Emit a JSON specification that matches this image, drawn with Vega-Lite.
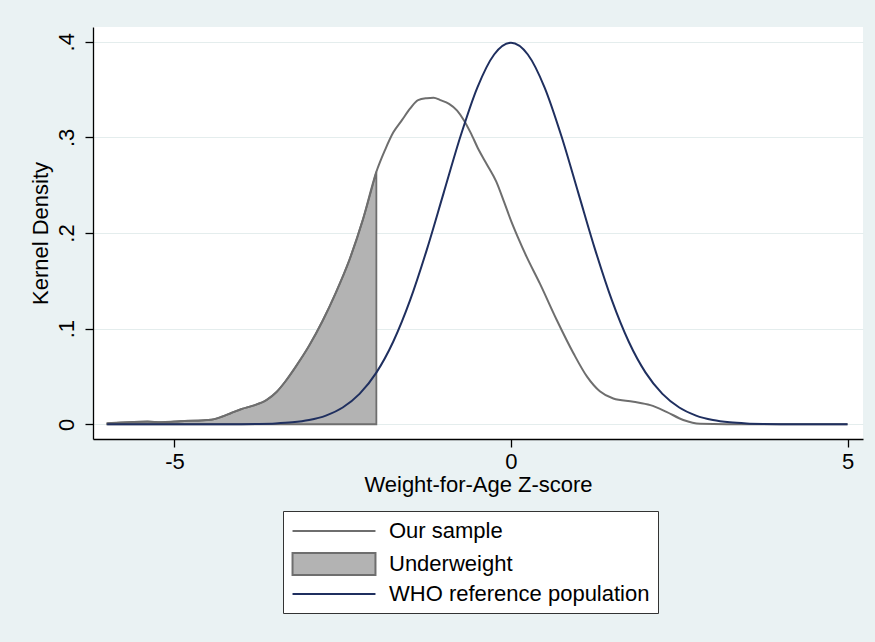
{
  "$schema": "https://vega.github.io/schema/vega-lite/v6.json",
  "width": 770,
  "height": 412,
  "autosize": {"type": "none"},
  "padding": {"left": 93, "top": 27, "right": 12, "bottom": 203},
  "background": "#eaf2f3",
  "config": {
    "view": {"fill": "white", "stroke": null},
    "font": "Liberation Sans",
    "axis": {
      "labelFont": "Liberation Sans",
      "titleFont": "Liberation Sans",
      "labelFontSize": 22,
      "titleFontSize": 22,
      "titleFontWeight": "normal",
      "labelColor": "black",
      "titleColor": "black",
      "domainColor": "black",
      "domainWidth": 1.3,
      "tickColor": "black",
      "tickWidth": 1.3,
      "tickSize": 8
    },
    "legend": {
      "labelFont": "Liberation Sans",
      "labelFontSize": 22,
      "labelColor": "black",
      "labelLimit": 500
    }
  },
  "datasets": {
    "dens": [
      {"series": "Our sample", "x": -6.0, "y": 0.001},
      {"series": "Our sample", "x": -5.8, "y": 0.0018},
      {"series": "Our sample", "x": -5.6, "y": 0.0025},
      {"series": "Our sample", "x": -5.4, "y": 0.0028},
      {"series": "Our sample", "x": -5.2, "y": 0.0022},
      {"series": "Our sample", "x": -5.0, "y": 0.0028},
      {"series": "Our sample", "x": -4.8, "y": 0.0036},
      {"series": "Our sample", "x": -4.6, "y": 0.004},
      {"series": "Our sample", "x": -4.45, "y": 0.0048},
      {"series": "Our sample", "x": -4.3, "y": 0.0078},
      {"series": "Our sample", "x": -4.15, "y": 0.012},
      {"series": "Our sample", "x": -4.0, "y": 0.016},
      {"series": "Our sample", "x": -3.83, "y": 0.0195},
      {"series": "Our sample", "x": -3.63, "y": 0.0255},
      {"series": "Our sample", "x": -3.48, "y": 0.034},
      {"series": "Our sample", "x": -3.35, "y": 0.045},
      {"series": "Our sample", "x": -3.2, "y": 0.06},
      {"series": "Our sample", "x": -3.0, "y": 0.082},
      {"series": "Our sample", "x": -2.8, "y": 0.108},
      {"series": "Our sample", "x": -2.6, "y": 0.138},
      {"series": "Our sample", "x": -2.4, "y": 0.172},
      {"series": "Our sample", "x": -2.2, "y": 0.214},
      {"series": "Our sample", "x": -2.0, "y": 0.264},
      {"series": "Our sample", "x": -1.87, "y": 0.287},
      {"series": "Our sample", "x": -1.75, "y": 0.305},
      {"series": "Our sample", "x": -1.62, "y": 0.318},
      {"series": "Our sample", "x": -1.5, "y": 0.33},
      {"series": "Our sample", "x": -1.38, "y": 0.339},
      {"series": "Our sample", "x": -1.25, "y": 0.341},
      {"series": "Our sample", "x": -1.15, "y": 0.3415},
      {"series": "Our sample", "x": -1.05, "y": 0.339},
      {"series": "Our sample", "x": -0.92, "y": 0.335},
      {"series": "Our sample", "x": -0.8, "y": 0.328},
      {"series": "Our sample", "x": -0.7, "y": 0.318},
      {"series": "Our sample", "x": -0.6, "y": 0.305},
      {"series": "Our sample", "x": -0.48, "y": 0.287},
      {"series": "Our sample", "x": -0.36, "y": 0.272},
      {"series": "Our sample", "x": -0.22, "y": 0.254},
      {"series": "Our sample", "x": -0.1, "y": 0.232},
      {"series": "Our sample", "x": 0.0, "y": 0.213},
      {"series": "Our sample", "x": 0.1, "y": 0.196},
      {"series": "Our sample", "x": 0.233, "y": 0.175},
      {"series": "Our sample", "x": 0.43, "y": 0.147},
      {"series": "Our sample", "x": 0.68, "y": 0.109},
      {"series": "Our sample", "x": 0.93, "y": 0.074},
      {"series": "Our sample", "x": 1.13, "y": 0.0498},
      {"series": "Our sample", "x": 1.32, "y": 0.0345},
      {"series": "Our sample", "x": 1.52, "y": 0.027},
      {"series": "Our sample", "x": 1.82, "y": 0.0236},
      {"series": "Our sample", "x": 2.07, "y": 0.02},
      {"series": "Our sample", "x": 2.31, "y": 0.013},
      {"series": "Our sample", "x": 2.56, "y": 0.0045},
      {"series": "Our sample", "x": 2.81, "y": 0.0005},
      {"series": "Our sample", "x": 3.2, "y": 0.0},
      {"series": "Our sample", "x": 5.0, "y": 0.0},

      {"series": "Underweight", "x": -6.0, "y": 0.001},
      {"series": "Underweight", "x": -5.8, "y": 0.0018},
      {"series": "Underweight", "x": -5.6, "y": 0.0025},
      {"series": "Underweight", "x": -5.4, "y": 0.0028},
      {"series": "Underweight", "x": -5.2, "y": 0.0022},
      {"series": "Underweight", "x": -5.0, "y": 0.0028},
      {"series": "Underweight", "x": -4.8, "y": 0.0036},
      {"series": "Underweight", "x": -4.6, "y": 0.004},
      {"series": "Underweight", "x": -4.45, "y": 0.0048},
      {"series": "Underweight", "x": -4.3, "y": 0.0078},
      {"series": "Underweight", "x": -4.15, "y": 0.012},
      {"series": "Underweight", "x": -4.0, "y": 0.016},
      {"series": "Underweight", "x": -3.83, "y": 0.0195},
      {"series": "Underweight", "x": -3.63, "y": 0.0255},
      {"series": "Underweight", "x": -3.48, "y": 0.034},
      {"series": "Underweight", "x": -3.35, "y": 0.045},
      {"series": "Underweight", "x": -3.2, "y": 0.06},
      {"series": "Underweight", "x": -3.0, "y": 0.082},
      {"series": "Underweight", "x": -2.8, "y": 0.108},
      {"series": "Underweight", "x": -2.6, "y": 0.138},
      {"series": "Underweight", "x": -2.4, "y": 0.172},
      {"series": "Underweight", "x": -2.2, "y": 0.214},
      {"series": "Underweight", "x": -2.0, "y": 0.264},

      {"series": "WHO reference population", "x": -6.0, "y": 0.0},
      {"series": "WHO reference population", "x": -5.0, "y": 0.0000015},
      {"series": "WHO reference population", "x": -4.5, "y": 0.000016},
      {"series": "WHO reference population", "x": -4.0, "y": 0.000134},
      {"series": "WHO reference population", "x": -3.75, "y": 0.000353},
      {"series": "WHO reference population", "x": -3.5, "y": 0.000873},
      {"series": "WHO reference population", "x": -3.25, "y": 0.00203},
      {"series": "WHO reference population", "x": -3.0, "y": 0.00443},
      {"series": "WHO reference population", "x": -2.75, "y": 0.00909},
      {"series": "WHO reference population", "x": -2.5, "y": 0.01753},
      {"series": "WHO reference population", "x": -2.25, "y": 0.03174},
      {"series": "WHO reference population", "x": -2.0, "y": 0.05399},
      {"series": "WHO reference population", "x": -1.75, "y": 0.08628},
      {"series": "WHO reference population", "x": -1.5, "y": 0.12952},
      {"series": "WHO reference population", "x": -1.25, "y": 0.18265},
      {"series": "WHO reference population", "x": -1.0, "y": 0.24197},
      {"series": "WHO reference population", "x": -0.75, "y": 0.30114},
      {"series": "WHO reference population", "x": -0.5, "y": 0.35207},
      {"series": "WHO reference population", "x": -0.25, "y": 0.38667},
      {"series": "WHO reference population", "x": 0.0, "y": 0.39894},
      {"series": "WHO reference population", "x": 0.25, "y": 0.38667},
      {"series": "WHO reference population", "x": 0.5, "y": 0.35207},
      {"series": "WHO reference population", "x": 0.75, "y": 0.30114},
      {"series": "WHO reference population", "x": 1.0, "y": 0.24197},
      {"series": "WHO reference population", "x": 1.25, "y": 0.18265},
      {"series": "WHO reference population", "x": 1.5, "y": 0.12952},
      {"series": "WHO reference population", "x": 1.75, "y": 0.08628},
      {"series": "WHO reference population", "x": 2.0, "y": 0.05399},
      {"series": "WHO reference population", "x": 2.25, "y": 0.03174},
      {"series": "WHO reference population", "x": 2.5, "y": 0.01753},
      {"series": "WHO reference population", "x": 2.75, "y": 0.00909},
      {"series": "WHO reference population", "x": 3.0, "y": 0.00443},
      {"series": "WHO reference population", "x": 3.25, "y": 0.00203},
      {"series": "WHO reference population", "x": 3.5, "y": 0.000873},
      {"series": "WHO reference population", "x": 3.75, "y": 0.000353},
      {"series": "WHO reference population", "x": 4.0, "y": 0.000134},
      {"series": "WHO reference population", "x": 4.5, "y": 0.000016},
      {"series": "WHO reference population", "x": 5.0, "y": 0.0000015}
    ]
  },
  "data": {"name": "dens"},
  "encoding": {
    "x": {
      "field": "x",
      "type": "quantitative",
      "scale": {"domain": [-6.21, 5.23], "nice": false, "zero": false},
      "axis": {
        "title": "Weight-for-Age Z-score",
        "values": [-5, 0, 5],
        "labelExpr": "'' + datum.value",
        "grid": false,
        "labelPadding": 4,
        "titlePadding": 2
      }
    },
    "y": {
      "field": "y",
      "type": "quantitative",
      "scale": {"domain": [-0.0154, 0.4154], "nice": false, "zero": false},
      "axis": {
        "title": "Kernel Density",
        "values": [0, 0.1, 0.2, 0.3, 0.4],
        "labelExpr": "datum.value == 0 ? '0' : replace(format(datum.value, '.1f'), '0.', '.')",
        "labelAngle": -90,
        "labelPadding": 7,
        "titlePadding": 3,
        "grid": true,
        "gridColor": "#e4eded",
        "gridWidth": 1.2
      }
    }
  },
  "layer": [
    {
      "transform": [{"filter": "datum.series === 'Underweight'"}],
      "mark": {"type": "area", "stroke": "#6e6e6e", "strokeWidth": 1.8, "interpolate": "monotone"},
      "encoding": {
        "y2": {"datum": 0},
        "fill": {
          "field": "series",
          "type": "nominal",
          "scale": {"domain": ["Underweight"], "range": ["#b3b3b3"]},
          "legend": {
            "title": null,
            "orient": "none",
            "legendX": 190,
            "legendY": 517,
            "padding": 8,
            "zindex": 2,
            "symbolType": "M-3.77,-1H3.77V1H-3.77Z",
            "symbolSize": 484,
            "symbolStrokeColor": "#6e6e6e",
            "symbolStrokeWidth": 2,
            "symbolOpacity": 1,
            "symbolOffset": 31,
            "labelOffset": 43
          }
        }
      }
    },
    {
      "transform": [{"filter": "datum.series !== 'Underweight'"}],
      "mark": {"type": "line", "strokeWidth": 2, "interpolate": "monotone"},
      "encoding": {
        "stroke": {
          "field": "series",
          "type": "nominal",
          "scale": {"domain": ["Our sample", "WHO reference population"], "range": ["#6e6e6e", "#1f2f5f"]},
          "legend": {
            "title": null,
            "orient": "none",
            "legendX": 190,
            "legendY": 484,
            "padding": 8,
            "zindex": 1,
            "fillColor": "white",
            "strokeColor": "#333333",
            "labelExpr": "datum.label + '  '",
            "symbolType": "M-3.77,0H3.77",
            "symbolSize": 484,
            "symbolStrokeWidth": 2,
            "symbolOffset": 31,
            "labelOffset": 43,
            "rowPadding": 40
          }
        }
      }
    }
  ]
}
